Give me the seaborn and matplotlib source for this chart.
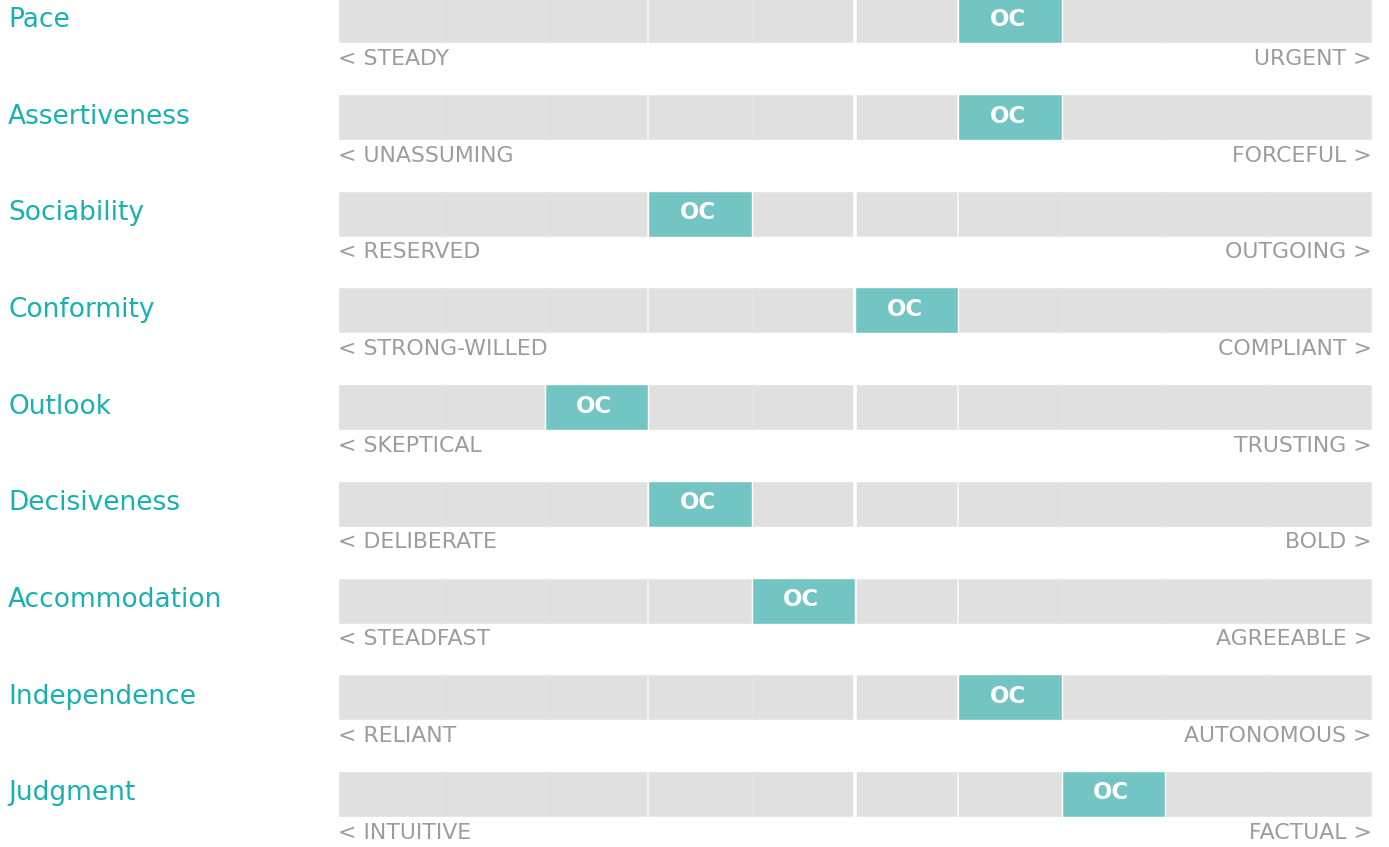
import matplotlib
matplotlib.use("Agg")
import matplotlib.pyplot as plt
import seaborn as sns
import pandas as pd

# ── data ────────────────────────────────────────────────
traits = ["Pace", "Assertiveness", "Sociability", "Conformity", "Outlook",
          "Decisiveness", "Accommodation", "Independence", "Judgment"]
low_labels = ["STEADY", "UNASSUMING", "RESERVED", "STRONG-WILLED", "SKEPTICAL",
              "DELIBERATE", "STEADFAST", "RELIANT", "INTUITIVE"]
high_labels = ["URGENT", "FORCEFUL", "OUTGOING", "COMPLIANT", "TRUSTING",
               "BOLD", "AGREEABLE", "AUTONOMOUS", "FACTUAL"]
oc_segment = [6, 6, 3, 5, 2, 3, 4, 6, 7]   # 0-based segment holding the OC marker
n_segments = 10
marker_text = "OC"

GRAY = "#e0e0e0"
TEAL_BOX = "#72c5c2"
TEAL_TXT = "#17b1b1"
SUB_GRAY = "#9c9c9c"

sns.set_theme(style="white")
plt.rcParams["font.family"] = ["DejaVu Sans"]

df = pd.DataFrame({"trait": traits, "scale": [n_segments] * len(traits)})

fig = plt.figure(figsize=(13.89, 8.47), dpi=100)
ax = fig.add_axes([0, 0, 1, 1])

PITCH = 96.7   # px between rows
TOP = 20.3     # px centre of first row
BAR_H = 46 / PITCH
sns.barplot(data=df, y="trait", x="scale", orient="h", color=GRAY,
            width=BAR_H, saturation=1, ax=ax, order=traits)

# segment separators
for k in range(1, n_segments):
    if k == 5:
        lw, c = 2.6, "white"
    elif k in (3, 6):
        lw, c = 1.2, "#f6f6f6"
    else:
        lw, c = 0.7, "#e5e5e5"
    for i in range(len(traits)):
        ax.plot([k, k], [i - BAR_H / 2, i + BAR_H / 2], color=c, lw=lw,
                solid_capstyle="butt", zorder=2)

# OC markers
ax.barh(range(len(traits)), [1] * len(traits), left=oc_segment, height=BAR_H,
        color=TEAL_BOX, zorder=3)
for i, s in enumerate(oc_segment):
    ax.text(s + 0.48, i - 0.01, marker_text, color="white", fontsize=16.5,
            fontweight="bold", ha="center", va="center", zorder=4)

px = 103.4  # pixels per segment
x_left = -338 / px
for i, t in enumerate(traits):
    ax.text(x_left + 8 / px, i - 0.005, t, color=TEAL_TXT, fontsize=19,
            ha="left", va="center")
    ax.text(0, i + 0.40, "< " + low_labels[i], color=SUB_GRAY, fontsize=15.8,
            ha="left", va="center")
    ax.text(n_segments, i + 0.40, high_labels[i] + " >", color=SUB_GRAY,
            fontsize=15.8, ha="right", va="center")

ax.set_xlim(x_left, (1389 - 338) / px)
ax.set_ylim((847 - TOP) / PITCH, -TOP / PITCH)
ax.axis("off")

fig.savefig("out.png", dpi=100)
